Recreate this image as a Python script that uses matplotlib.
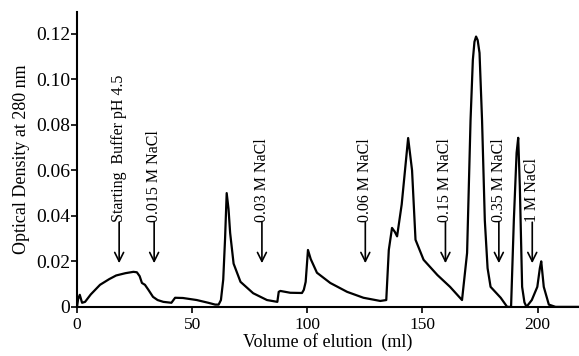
import matplotlib.pyplot as plt

plt.rcParams['font.family'] = ['Liberation Serif', 'DejaVu Serif']

# elution profile (ml, OD 280 nm)
volume = [0, 0.5, 1.2, 2.2, 3.5, 6, 10, 14, 17, 21, 24.5, 26, 27.2, 28.2, 29.5, 31, 33, 35,
          37.5, 41, 42.6, 46, 52, 57, 60, 61.5, 62.5, 63.5, 64.3, 65, 65.8, 66.5, 68,
          71, 76.5, 82.5, 87, 87.6, 88.3, 92.6, 97.7, 98.5, 99.3, 100.3, 101.5, 104.2,
          110, 117.3, 124.4, 131.7, 134.3, 135.4, 136.8, 138, 139, 141, 143.8, 145.5,
          147, 150.5, 156.5, 162, 167.2, 169.4, 170.9, 171.9, 172.6, 173.3, 174.0, 174.8,
          175.9, 177.1, 178.3, 179.6, 184, 186.8, 188.5, 189.7, 190.9, 191.6, 192.3,
          193.3, 194.3, 195.2, 197.5, 199.9, 201, 201.6, 202.7, 204.9, 207.8, 218]
od = [0, 0.0035, 0.0053, 0.0018, 0.0022, 0.0055, 0.0097, 0.0122, 0.0138, 0.0148, 0.0154,
      0.0152, 0.0135, 0.0105, 0.0097, 0.0075, 0.0044, 0.003, 0.0022, 0.0018, 0.004,
      0.0039, 0.003, 0.0018, 0.001, 0.001, 0.003, 0.012, 0.03, 0.050, 0.043, 0.0325,
      0.019, 0.011, 0.006, 0.003, 0.0022, 0.0066, 0.007, 0.0062, 0.0061, 0.0075, 0.011,
      0.025, 0.021, 0.015, 0.0105, 0.0066, 0.004, 0.0026, 0.003, 0.025, 0.0347, 0.033,
      0.031, 0.045, 0.0742, 0.06, 0.0295, 0.0207, 0.014, 0.0088, 0.003, 0.0237, 0.082,
      0.1085, 0.1165, 0.1188, 0.1172, 0.1116, 0.082, 0.038, 0.017, 0.0088, 0.004, 0.0,
      0.0, 0.038, 0.0677, 0.0743, 0.053, 0.0088, 0.002, 0.0, 0.003, 0.0088, 0.017,
      0.020, 0.0088, 0.001, 0.0, 0.0]

# buffer change markers
marker_x = [18.3, 33.5, 80.3, 125.2, 160, 183.2, 197.7]
marker_labels = ['Starting  Buffer pH 4.5', '0.015 M NaCl', '0.03 M NaCl',
                 '0.06 M NaCl', '0.15 M NaCl', '0.35 M NaCl', '1 M NaCl']

fig = plt.figure(figsize=(5.79, 3.56), dpi=100)
ax = fig.add_axes([0.133, 0.138, 0.867, 0.829])

ax.plot(volume, od, color='black', lw=1.6, solid_joinstyle='round')

for x, lab in zip(marker_x, marker_labels):
    ax.annotate('', xy=(x, 0.0192), xytext=(x, 0.0372),
                arrowprops=dict(arrowstyle='->', color='black', lw=1.2,
                                mutation_scale=16, shrinkA=0, shrinkB=0))
    ax.text(x, 0.0372, lab, rotation=90, ha='center', va='bottom', fontsize=11.5)

ax.set_xlim(0, 218)
ax.set_ylim(0, 0.1297)
ax.set_xticks([0, 50, 100, 150, 200])
ax.set_yticks([0, 0.02, 0.04, 0.06, 0.08, 0.10, 0.12])
ax.set_yticklabels(['0', '0.02', '0.04', '0.06', '0.08', '0.10', '0.12'])
ax.tick_params(axis='y', labelsize=14, direction='out', length=4, width=1.2, pad=1)
ax.tick_params(axis='x', labelsize=12.5, direction='out', length=4, width=1.2, pad=3)

ax.spines['top'].set_visible(False)
ax.spines['right'].set_visible(False)
ax.spines['left'].set_linewidth(1.5)
ax.spines['bottom'].set_linewidth(1.5)

ax.set_xlabel('Volume of elution  (ml)', fontsize=13, labelpad=0)
ax.set_ylabel('Optical Density at 280 nm', fontsize=13, labelpad=4)

fig.savefig('out.png', dpi=100)
